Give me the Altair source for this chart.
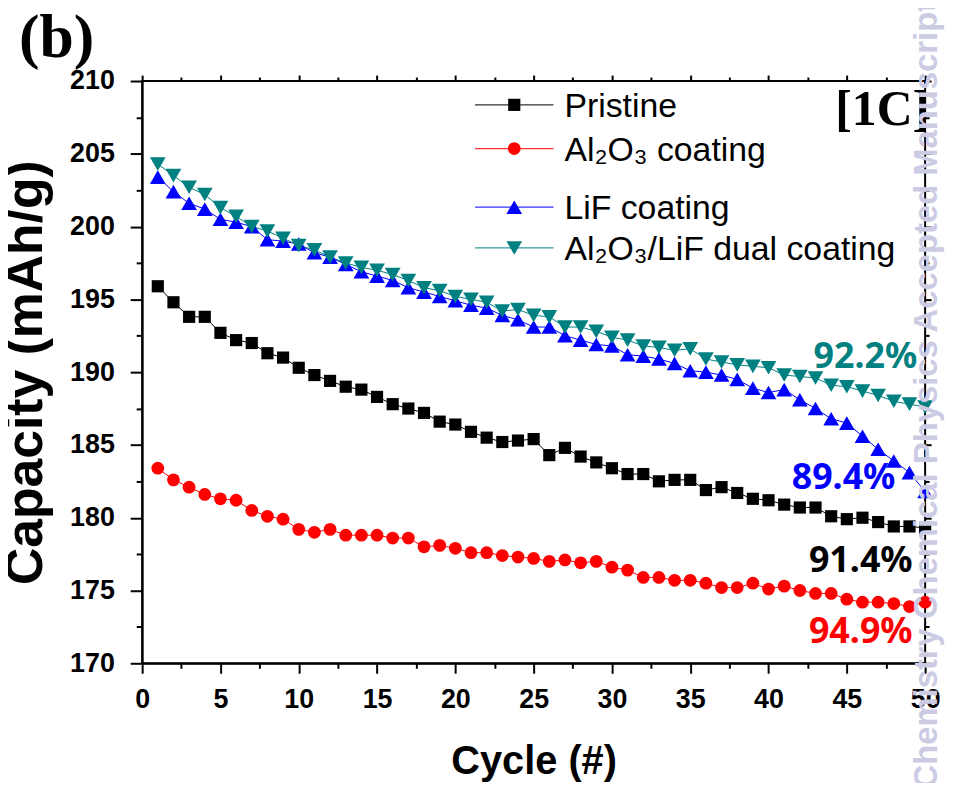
import altair as alt
import pandas as pd

# ---------------- data ----------------
cycles = list(range(1, 51))
series_names = ["Pristine", "Al₂O₃ coating", "LiF coating", "Al₂O₃/LiF dual coating"]
series_colors = ["#000000", "#ff0000", "#0000ff", "#008080"]
series_shapes = ["square", "circle", "triangle-up", "triangle-down"]

pristine = [195.9, 194.8, 193.8, 193.8, 192.7, 192.2, 192.0, 191.3, 191.0, 190.3,
            189.8, 189.4, 189.0, 188.8, 188.3, 187.8, 187.5, 187.2, 186.6, 186.4,
            185.9, 185.5, 185.2, 185.3, 185.4, 184.3, 184.8, 184.2, 183.8, 183.4,
            183.0, 183.0, 182.5, 182.6, 182.6, 181.9, 182.1, 181.7, 181.3, 181.2,
            180.9, 180.7, 180.7, 180.1, 179.9, 180.0, 179.7, 179.4, 179.4, 179.3]
al2o3 = [183.4, 182.6, 182.1, 181.6, 181.3, 181.2, 180.5, 180.1, 179.9, 179.2,
         179.0, 179.2, 178.8, 178.8, 178.8, 178.6, 178.6, 178.0, 178.1, 177.9,
         177.6, 177.6, 177.4, 177.3, 177.2, 177.0, 177.1, 176.9, 177.0, 176.6,
         176.4, 175.9, 175.9, 175.7, 175.7, 175.5, 175.2, 175.2, 175.5, 175.1,
         175.3, 175.0, 174.8, 174.8, 174.4, 174.2, 174.2, 174.1, 173.9, 174.2]
lif = [203.4, 202.4, 201.6, 201.2, 200.5, 200.3, 200.0, 199.1, 199.0, 198.8,
       198.2, 197.9, 197.4, 196.9, 196.6, 196.3, 195.8, 195.5, 195.2, 194.9,
       194.6, 194.4, 193.9, 193.6, 193.1, 193.1, 192.5, 192.2, 191.9, 191.8,
       191.2, 191.1, 190.9, 190.6, 190.1, 190.0, 189.8, 189.5, 188.9, 188.6,
       188.8, 188.1, 187.5, 186.8, 186.5, 185.6, 184.7, 183.9, 183.1, 181.8]
dual = [204.3, 203.5, 202.7, 202.2, 201.3, 200.7, 200.0, 199.7, 199.2, 198.7,
        198.4, 197.9, 197.5, 197.2, 197.0, 196.7, 196.3, 195.8, 195.6, 195.2,
        195.0, 194.8, 194.2, 194.3, 193.9, 193.8, 193.1, 193.1, 192.8, 192.4,
        192.2, 191.8, 191.7, 191.5, 191.6, 190.9, 190.7, 190.5, 190.4, 190.3,
        189.8, 189.7, 189.6, 189.1, 189.0, 188.7, 188.4, 188.0, 187.8, 187.6]

x_tick_values = [i * 2.5 for i in range(0, 21)]
y_tick_values = [170 + i * 2.5 for i in range(0, 17)]

ann_labels = ["92.2%", "89.4%", "91.4%", "94.9%"]
ann_x = [49.5, 48.1, 49.2, 49.2]
ann_y = [190.3, 181.95, 176.3, 171.4]
ann_colors = ["#008080", "#0000ff", "#000000", "#ff0000"]

rate_label = "[1C]"
rate_x = [50.0]
rate_y = [207.0]

panel_label = "(b)"
watermark = "Chemistry Chemical Physics Accepted Manuscript"

# ---------------- styles / layout ----------------
marker_sizes = [150, 165, 250, 250]
FONT = "Liberation Sans"
major_test = "abs(datum.value % 5) < 0.001"
# legend layout (pixels inside the plot area)
LEG_LINE_X0, LEG_LINE_X1, LEG_TEXT_X = 335, 414, 425
LEG_ROW_Y = [24, 68, 127, 168]

# ---------------- table ----------------
all_vals = [pristine, al2o3, lif, dual]
rows = []
for name, vals in zip(series_names, all_vals):
    for c, v in zip(cycles, vals):
        rows.append({"series": name, "cycle": c, "capacity": v})
df = pd.DataFrame(rows)

xscale = alt.Scale(domain=[0, 50], nice=False, zero=False)
yscale = alt.Scale(domain=[170, 210], nice=False, zero=False)

x_axis = alt.Axis(
    values=x_tick_values, labelExpr=f"{major_test} ? datum.label : ''",
    tickSize={"condition": {"test": major_test, "value": 10}, "value": 5},
    title="Cycle (#)", titleFont=FONT, titleFontSize=40, titleFontWeight="bold",
    titlePadding=29, labelFont=FONT, labelFontSize=27, labelFontWeight="bold",
    labelPadding=14, labelFlush=False, labelOverlap=False, grid=False,
    domainColor="black", domainWidth=2, tickColor="black", tickWidth=2,
    labelColor="black", titleColor="black",
)
y_axis = alt.Axis(
    values=y_tick_values, labelExpr=f"{major_test} ? datum.label : ''",
    tickSize={"condition": {"test": major_test, "value": 12}, "value": 6},
    title="Capacity (mAh/g)", titleFont=FONT, titleFontSize=52, titleFontWeight="bold",
    titlePadding=17, labelFont=FONT, labelFontSize=27, labelFontWeight="bold",
    labelPadding=16, labelFlush=False, labelOverlap=False, grid=False,
    domainColor="black", domainWidth=2, tickColor="black", tickWidth=2,
    labelColor="black", titleColor="black",
)
x_axis_top = alt.Axis(
    orient="top", values=x_tick_values, labels=False, title=None, domain=False,
    tickSize={"condition": {"test": major_test, "value": 6}, "value": 4},
    tickColor="black", tickWidth=2, grid=False,
)
y_axis_right = alt.Axis(
    orient="right", values=y_tick_values, labels=False, title=None, domain=False,
    tickSize={"condition": {"test": major_test, "value": 6}, "value": 4},
    tickColor="black", tickWidth=2, grid=False,
)

base = alt.Chart(df)

lines = base.mark_line(strokeWidth=1).encode(
    x=alt.X("cycle:Q", scale=xscale, axis=x_axis),
    y=alt.Y("capacity:Q", scale=yscale, axis=y_axis),
    color=alt.Color("series:N", scale=alt.Scale(domain=series_names, range=series_colors), legend=None),
    detail="series:N",
)

mirror = base.mark_point(opacity=0).encode(
    x=alt.X("cycle:Q", scale=xscale, axis=x_axis_top),
    y=alt.Y("capacity:Q", scale=yscale, axis=y_axis_right),
)

point_layers = []
for name, col, shp, sz in zip(series_names, series_colors, series_shapes, marker_sizes):
    point_layers.append(
        base.transform_filter(alt.datum.series == name)
        .mark_point(shape=shp, filled=True, size=sz, color=col, opacity=1, strokeWidth=0)
        .encode(
            x=alt.X("cycle:Q", scale=xscale, axis=None),
            y=alt.Y("capacity:Q", scale=yscale, axis=None),
        )
    )

# ---------------- legend (line + marker + label per series) ----------------
legend_layers = []
for name, col, shp, sz, ry in zip(series_names, series_colors, series_shapes, marker_sizes, LEG_ROW_Y):
    ld = alt.Chart(pd.DataFrame({"t": [name]}))
    legend_layers.append(
        ld.mark_rule(color=col, strokeWidth=1.3, opacity=0.8)
        .encode(x=alt.value(LEG_LINE_X0), x2=alt.value(LEG_LINE_X1), y=alt.value(ry))
    )
    legend_layers.append(
        ld.mark_point(shape=shp, filled=True, size=sz, color=col, opacity=1, strokeWidth=0)
        .encode(x=alt.value((LEG_LINE_X0 + LEG_LINE_X1) / 2), y=alt.value(ry))
    )
    legend_layers.append(
        ld.mark_text(align="left", baseline="alphabetic", font=FONT, fontSize=34, color="black")
        .encode(x=alt.value(LEG_TEXT_X), y=alt.value(ry + 12), text="t:N")
    )

ann_layers = []
for lab, ax, ay, ac in zip(ann_labels, ann_x, ann_y, ann_colors):
    ann_layers.append(
        alt.Chart(pd.DataFrame({"x": [ax], "y": [ay], "t": [lab]}))
        .mark_text(align="right", baseline="alphabetic", font="Noto Sans", fontSize=36,
                   fontWeight="bold", color=ac)
        .encode(
            x=alt.X("x:Q", scale=xscale, axis=None),
            y=alt.Y("y:Q", scale=yscale, axis=None),
            text="t:N",
        )
    )

rate = (
    alt.Chart(pd.DataFrame({"x": rate_x, "y": rate_y, "t": [rate_label]}))
    .mark_text(align="right", baseline="alphabetic", font="Liberation Serif", fontSize=50,
               fontWeight="bold", color="black", dx=4)
    .encode(
        x=alt.X("x:Q", scale=xscale, axis=None),
        y=alt.Y("y:Q", scale=yscale, axis=None),
        text="t:N",
    )
)

panel = (
    alt.Chart(pd.DataFrame({"t": [panel_label]}))
    .mark_text(align="left", baseline="alphabetic", font="Liberation Serif", fontSize=62,
               fontWeight="bold", color="black")
    .encode(x=alt.value(-124), y=alt.value(-24), text="t:N")
)

wm = (
    alt.Chart(pd.DataFrame({"t": [watermark]}))
    .mark_text(angle=270, align="left", baseline="middle", font=FONT, fontSize=33,
               fontWeight="bold", color="#cbcbe4")
    .encode(x=alt.value(790), y=alt.value(712), text="t:N")
)

chart = (
    alt.layer(lines, mirror, *point_layers, *legend_layers, *ann_layers, rate, panel, wm)
    .resolve_axis(x="independent", y="independent")
    .properties(
        width=788, height=586,
        padding={"left": 135, "top": 71, "right": 20, "bottom": 118},
        autosize=alt.AutoSizeParams(type="none"),
        background="white",
    )
    .configure_view(stroke="black", strokeWidth=2)
)

chart.save("out.html", embed_options={"renderer": "svg", "actions": False})
